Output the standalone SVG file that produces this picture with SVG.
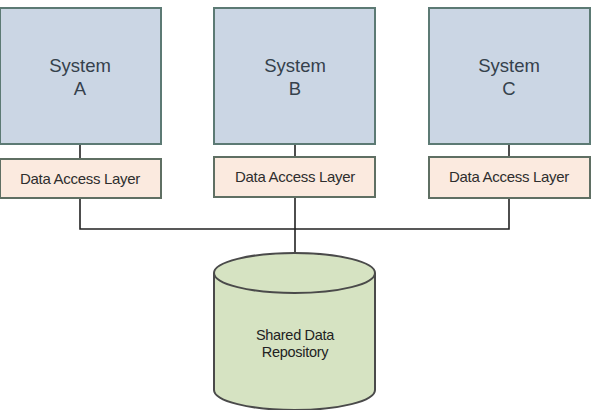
<svg xmlns="http://www.w3.org/2000/svg" width="591" height="410" viewBox="0 0 591 410">
<style>
.sys{fill:#cbd6e4;stroke:#5c7a74;stroke-width:2}
.dal{fill:#fbeadf;stroke:#5f6f63;stroke-width:2}
.db{fill:#d6e3c2;stroke:#4a4a4a;stroke-width:2}
.t1{font-family:"Liberation Sans",Arial,sans-serif;font-size:18.5px;fill:#35414c;text-anchor:middle}
.t2{font-family:"Liberation Sans",Arial,sans-serif;font-size:15px;fill:#2e2e2e;text-anchor:middle;letter-spacing:-0.3px}
.t3{font-family:"Liberation Sans",Arial,sans-serif;font-size:14.5px;fill:#222;text-anchor:middle;letter-spacing:-0.3px}
.c{stroke:#222;stroke-width:1.6;fill:none}
</style>
<g id="connectors">
<path class="c" d="M80,144V159M295,144V157M509,144V157"/>
<path class="c" d="M80,198V229H509V198M295,197V253"/>
</g>
<g id="systemA"><rect class="sys" x="0" y="8" width="161" height="136"/><text class="t1" x="80" y="72">System</text><text class="t1" x="80" y="95">A</text></g>
<g id="systemB"><rect class="sys" x="214" y="8" width="161" height="136"/><text class="t1" x="295" y="72">System</text><text class="t1" x="295" y="95">B</text></g>
<g id="systemC"><rect class="sys" x="429" y="8" width="161" height="136"/><text class="t1" x="509" y="72">System</text><text class="t1" x="509" y="95">C</text></g>
<g id="dalA"><rect class="dal" x="0" y="159" width="161" height="39"/><text class="t2" x="80" y="184">Data Access Layer</text></g>
<g id="dalB"><rect class="dal" x="214" y="157" width="161" height="40"/><text class="t2" x="295" y="182">Data Access Layer</text></g>
<g id="dalC"><rect class="dal" x="429" y="157" width="161" height="41"/><text class="t2" x="509" y="182">Data Access Layer</text></g>
<g id="repository">
<path class="db" d="M214,273V390A80.5,20 0 0 0 375,390V273A80.5,20 0 0 0 214,273Z"/>
<path class="db" d="M214,273A80.5,20 0 0 0 375,273" fill="none"/>
<text class="t3" x="295" y="340">Shared Data</text>
<text class="t3" x="295" y="357">Repository</text>
</g>
</svg>
